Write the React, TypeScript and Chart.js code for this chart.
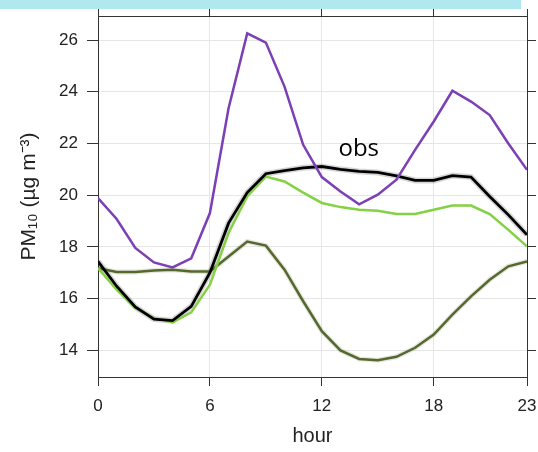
import React, { useEffect, useRef } from "react";
import { Chart, registerables } from "chart.js";

Chart.register(...registerables);

const hours = [0, 1, 2, 3, 4, 5, 6, 7, 8, 9, 10, 11, 12, 13, 14, 15, 16, 17, 18, 19, 20, 21, 22, 23];
const xTicks = [0, 6, 12, 18, 23];
const yTicks = [14, 16, 18, 20, 22, 24, 26];

const purpleSeries = [19.89, 19.08, 17.96, 17.4, 17.21, 17.56, 19.31, 23.36, 26.26, 25.9, 24.2, 21.95, 20.7, 20.14, 19.65, 20.02, 20.6, 21.75, 22.85, 24.04, 23.62, 23.1, 22.0, 20.98];
const obsSeries = [17.44, 16.48, 15.68, 15.21, 15.15, 15.7, 17.0, 18.92, 20.1, 20.83, 20.95, 21.06, 21.11, 21.0, 20.92, 20.88, 20.75, 20.57, 20.57, 20.76, 20.7, 19.95, 19.24, 18.47];
const lightGreenSeries = [17.18, 16.35, 15.64, 15.25, 15.08, 15.47, 16.54, 18.54, 19.95, 20.72, 20.53, 20.1, 19.7, 19.54, 19.44, 19.4, 19.27, 19.27, 19.44, 19.6, 19.6, 19.27, 18.66, 18.02];
const oliveSeries = [17.18, 17.03, 17.03, 17.09, 17.12, 17.05, 17.05, 17.63, 18.21, 18.05, 17.12, 15.9, 14.74, 14.0, 13.67, 13.62, 13.75, 14.1, 14.61, 15.38, 16.09, 16.73, 17.25, 17.44];

const obsLabel = { text: "obs", hour: 13.98, value: 21.53 };

const toPoints = (vals: number[]) => hours.map((h, i) => ({ x: h, y: vals[i] }));

const X_MIN = 0, X_MAX = 23, Y_MIN = 12.97, Y_MAX = 26.93;
const FRAME = "#333333";
const GRID = "#e6e6e6";
const FONT = "'Liberation Sans', Arial, sans-serif";

const obsLabelPlugin = {
  id: "obsLabel",
  afterDatasetsDraw(chart: any) {
    const { ctx, scales } = chart;
    const px = scales.x.getPixelForValue(obsLabel.hour);
    const py = scales.y.getPixelForValue(obsLabel.value);
    ctx.save();
    ctx.font = "24px 'Open Sans', sans-serif";
    ctx.fillStyle = "#000";
    ctx.textAlign = "center";
    ctx.textBaseline = "alphabetic";
    ctx.fillText(obsLabel.text, px, py);
    ctx.restore();
  },
};

const noPad = (s: any) => {
  s.paddingLeft = 0;
  s.paddingRight = 0;
  s.paddingTop = 0;
  s.paddingBottom = 0;
};

export default function App() {
  const ref = useRef<HTMLCanvasElement | null>(null);

  useEffect(() => {
    if (!ref.current) return;
    const line = (data: number[], color: string, width: number, order: number) => ({
      data: toPoints(data),
      borderColor: color,
      borderWidth: width,
      pointRadius: 0,
      fill: false,
      tension: 0,
      order,
      xAxisID: "x",
      yAxisID: "y",
    });
    const chart = new Chart(ref.current, {
      type: "line",
      data: {
        datasets: [
          line(purpleSeries, "#7b3fb6", 2.5, 1),
          line(obsSeries, "#000000", 2.8, 2),
          line(lightGreenSeries, "#84d143", 2.5, 3),
          line(oliveSeries, "#55682e", 2.5, 4),
          line(obsSeries, "rgba(0,0,0,0.16)", 6, 5),
          line(oliveSeries, "rgba(85,104,46,0.15)", 5, 6),
        ],
      },
      options: {
        animation: false,
        responsive: false,
        maintainAspectRatio: false,
        layout: { padding: { left: 13, right: 0, top: 0, bottom: 0 } },
        plugins: { legend: { display: false }, tooltip: { enabled: false } },
        scales: {
          x: {
            type: "linear",
            position: "bottom",
            min: X_MIN,
            max: X_MAX,
            afterBuildTicks: (s: any) => { s.ticks = xTicks.map((v) => ({ value: v })); },
            afterFit: (s: any) => { s.height = 75; noPad(s); },
            grid: { color: GRID, lineWidth: 1, tickLength: 9, tickColor: FRAME, tickWidth: 1 },
            border: { display: true, color: FRAME, width: 1 },
            ticks: { color: "#222", font: { family: FONT, size: 17 }, padding: 10, maxRotation: 0, autoSkip: false },
            title: { display: true, text: "hour", color: "#222", font: { family: FONT, size: 20 } },
          },
          x2: {
            type: "linear",
            position: "top",
            min: X_MIN,
            max: X_MAX,
            afterBuildTicks: (s: any) => { s.ticks = xTicks.map((v) => ({ value: v })); },
            afterFit: (s: any) => { s.height = 16; noPad(s); },
            grid: { drawOnChartArea: false, tickLength: 7, color: FRAME, tickColor: FRAME },
            border: { display: true, color: FRAME, width: 1 },
            ticks: { display: false },
          },
          y: {
            type: "linear",
            position: "left",
            min: Y_MIN,
            max: Y_MAX,
            afterBuildTicks: (s: any) => { s.ticks = yTicks.map((v) => ({ value: v })); },
            afterFit: (s: any) => { s.width = 85; noPad(s); },
            grid: { color: GRID, lineWidth: 1, tickLength: 11, tickColor: FRAME, tickWidth: 1 },
            border: { display: true, color: FRAME, width: 1 },
            ticks: { color: "#222", font: { family: FONT, size: 17 }, padding: 9 },
            title: { display: true, text: "PM₁₀ (µg m⁻³)", color: "#222", font: { family: FONT, size: 21 } },
          },
          y2: {
            type: "linear",
            position: "right",
            min: Y_MIN,
            max: Y_MAX,
            afterBuildTicks: (s: any) => { s.ticks = yTicks.map((v) => ({ value: v })); },
            afterFit: (s: any) => { s.width = 11; noPad(s); },
            grid: { drawOnChartArea: false, tickLength: 9, color: FRAME, tickColor: FRAME },
            border: { display: true, color: FRAME, width: 1 },
            ticks: { display: false },
          },
        },
      },
      plugins: [obsLabelPlugin],
    });
    return () => chart.destroy();
  }, []);

  return (
    <div style={{ position: "fixed", left: 0, top: 0, width: 538, height: 452, background: "#fff" }}>
      <canvas ref={ref} width={538} height={452} style={{ display: "block", width: 538, height: 452 }} />
      <div style={{ position: "absolute", left: 0, top: 0, width: 521, height: 9, background: "#b0e8f0" }} />
    </div>
  );
}
